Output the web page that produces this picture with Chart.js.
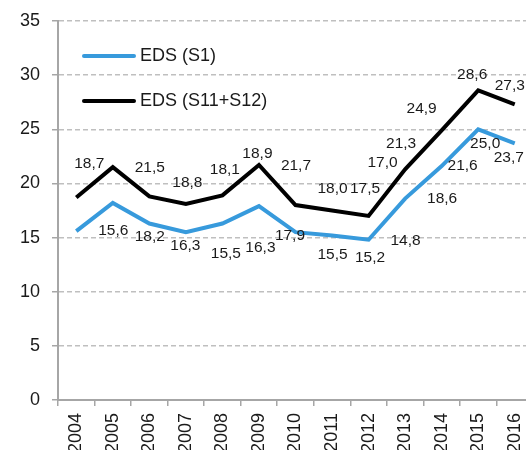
<!DOCTYPE html>
<html>
<head>
<meta charset="utf-8">
<script src="https://cdn.jsdelivr.net/npm/chart.js@4/dist/chart.umd.min.js"></script>
<style>
  html, body { margin: 0; padding: 0; background: #fff; overflow: hidden; }
  #wrap { width: 533px; height: 450px; }
</style>
</head>
<body>
<div id="wrap"><canvas id="chart"></canvas></div>
<script>
const years     = ['2004', '2005', '2006', '2007', '2008', '2009', '2010', '2011', '2012', '2013', '2014', '2015', '2016'];
const edsS1     = [15.6, 18.2, 16.3, 15.5, 16.3, 17.9, 15.5, 15.2, 14.8, 18.6, 21.6, 25.0, 23.7];
const edsS11S12 = [18.7, 21.5, 18.8, 18.1, 18.9, 21.7, 18.0, 17.5, 17.0, 21.3, 24.9, 28.6, 27.3];
const yMin = 0, yMax = 35, yStep = 5;

// label placement in the original is hand-moved; offsets in px from each point
const offS1     = [[37, 0], [37, 34], [36, 22], [40, 22], [38, 24], [31, 30], [37, 23], [38, 22], [37, 1], [37, 0], [21, 0], [7, 14], [-6, 14]];
const offS11S12 = [[13, -34], [37, 1], [38, -14], [39, -34], [35, -42], [37, 1], [37, -16], [33, -22], [14, -53], [-4, -26], [-20, -22], [-6, -16], [-5, -19]];

const FONT  = '"Liberation Sans", Arial, sans-serif';
const BLUE  = '#379ADC';
const BLACK = '#000000';
const GRID  = '#BFBFBF';
const AXIS  = '#A6A6A6';
const TEXT  = '#1a1a1a';

const fmt = v => v.toFixed(1).replace('.', ',');

const valueLabels = {
    id: 'valueLabels',
    afterDatasetsDraw(chart) {
        const ctx = chart.ctx;
        ctx.save();
        ctx.font = '15.5px ' + FONT;
        ctx.fillStyle = TEXT;
        ctx.textAlign = 'center';
        ctx.textBaseline = 'middle';
        chart.data.datasets.forEach((ds, i) => {
            const meta = chart.getDatasetMeta(i);
            meta.data.forEach((pt, j) => {
                const [dx, dy] = ds.labelOffsets[j];
                ctx.fillText(fmt(ds.data[j]), pt.x + dx, pt.y + dy);
            });
        });
        ctx.restore();
    }
};

const insideLegend = {
    id: 'insideLegend',
    afterDraw(chart) {
        const ctx = chart.ctx;
        ctx.save();
        ctx.font = '18px ' + FONT;
        ctx.textBaseline = 'middle';
        ctx.textAlign = 'left';
        chart.data.datasets.forEach((ds, i) => {
            const y = 56 + i * 45;
            ctx.strokeStyle = ds.borderColor;
            ctx.lineWidth = 4;
            ctx.lineCap = 'round';
            ctx.beginPath();
            ctx.moveTo(84, y);
            ctx.lineTo(134, y);
            ctx.stroke();
            ctx.fillStyle = TEXT;
            ctx.fillText(ds.label, 140, y);
        });
        ctx.restore();
    }
};

new Chart(document.getElementById('chart'), {
    type: 'line',
    data: {
        labels: years,
        datasets: [
            { label: 'EDS (S1)',      data: edsS1,     borderColor: BLUE,  labelOffsets: offS1 },
            { label: 'EDS (S11+S12)', data: edsS11S12, borderColor: BLACK, labelOffsets: offS11S12 },
        ].map(d => ({ ...d, borderWidth: 4, pointRadius: 0, tension: 0, borderJoinStyle: 'miter', fill: false })),
    },
    options: {
        responsive: true,
        maintainAspectRatio: false,
        animation: false,
        layout: { padding: { top: 21, left: 0, right: 0, bottom: 0 } },
        plugins: { legend: { display: false }, tooltip: { enabled: false } },
        scales: {
            x: {
                offset: true,
                grid: { offset: true, drawOnChartArea: false, tickLength: 6, color: AXIS, lineWidth: 1.5 },
                border: { color: AXIS, width: 2 },
                ticks: { color: TEXT, font: { family: FONT, size: 18 }, minRotation: 90, maxRotation: 90, autoSkip: false, padding: 7 },
                afterFit: s => { s.height = 50; s.paddingLeft = 0; s.paddingRight = 0; },
            },
            y: {
                min: yMin, max: yMax,
                grid: { color: GRID, lineWidth: 1.5, tickLength: 6, tickColor: AXIS },
                border: { color: AXIS, width: 2, dash: [5, 3] },
                ticks: { stepSize: yStep, color: TEXT, font: { family: FONT, size: 18 }, padding: 12 },
                afterFit: s => { s.width = 58; s.paddingTop = 0; s.paddingBottom = 0; },
            },
        },
    },
    plugins: [valueLabels, insideLegend],
});
</script>
</body>
</html>
